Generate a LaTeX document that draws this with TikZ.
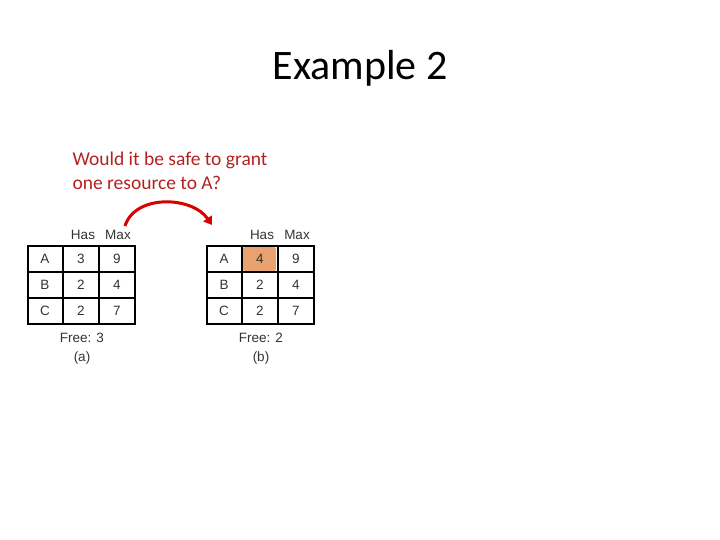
\documentclass[tikz,border=0pt]{standalone}
\usepackage{fontspec}
\setmainfont{Carlito}
\newfontfamily\arialf{Liberation Sans}
\usetikzlibrary{arrows.meta}
\definecolor{darkred}{RGB}{178,34,34}
\definecolor{hl}{RGB}{232,162,112}
\begin{document}
\begin{tikzpicture}[x=1pt,y=-1pt,
  tab/.style={font=\arialf\fontsize{13.5}{16}\selectfont, text=black!80},
  cellline/.style={line width=1.1pt}]
\useasboundingbox (0,0) rectangle (720,540);
\node[font=\fontsize{42}{50}\selectfont] (title) at (360,68) {Example 2};
\node[anchor=west, align=left, text=darkred, font=\fontsize{19.5}{24}\selectfont] (q) at (69,171) {Would it be safe to grant\\one resource to A?};
\fill[hl, rounded corners=2pt] (243,247) rectangle (276,271);
\foreach \ox/\nm/\f/\h in {28/a/3/3, 207/b/2/4}{
  \draw[cellline] (\ox,246) rectangle +(107,78);
  \foreach \dx in {35,71} \draw[cellline] (\ox+\dx,246) -- (\ox+\dx,324);
  \foreach \dy in {272,298} \draw[cellline] (\ox,\dy) -- (\ox+107,\dy);
  \node[tab] (has\nm) at (\ox+55,235) {Has};
  \node[tab] (max\nm) at (\ox+90,235) {Max};
  \node[tab] at (\ox+17,259) {A};
  \node[tab] at (\ox+17,285) {B};
  \node[tab] at (\ox+17,311) {C};
  \node[tab] at (\ox+53,259) {\h};
  \node[tab] at (\ox+53,285) {2};
  \node[tab] at (\ox+53,311) {2};
  \node[tab] at (\ox+89,259) {9};
  \node[tab] at (\ox+89,285) {4};
  \node[tab] at (\ox+89,311) {7};
  \node[tab] (free\nm) at (\ox+54,338) {Free: \f};
  \node[tab] (lab\nm) at (\ox+54,358) {(\nm)};
}
\coordinate (s) at (125,226);
\coordinate (e) at (212,225);
\draw[red!85!black, line width=3pt, -{Triangle[length=8pt,width=10pt]}] (s) .. controls (135,194) and (192,196) .. (e);
\end{tikzpicture}
\end{document}
